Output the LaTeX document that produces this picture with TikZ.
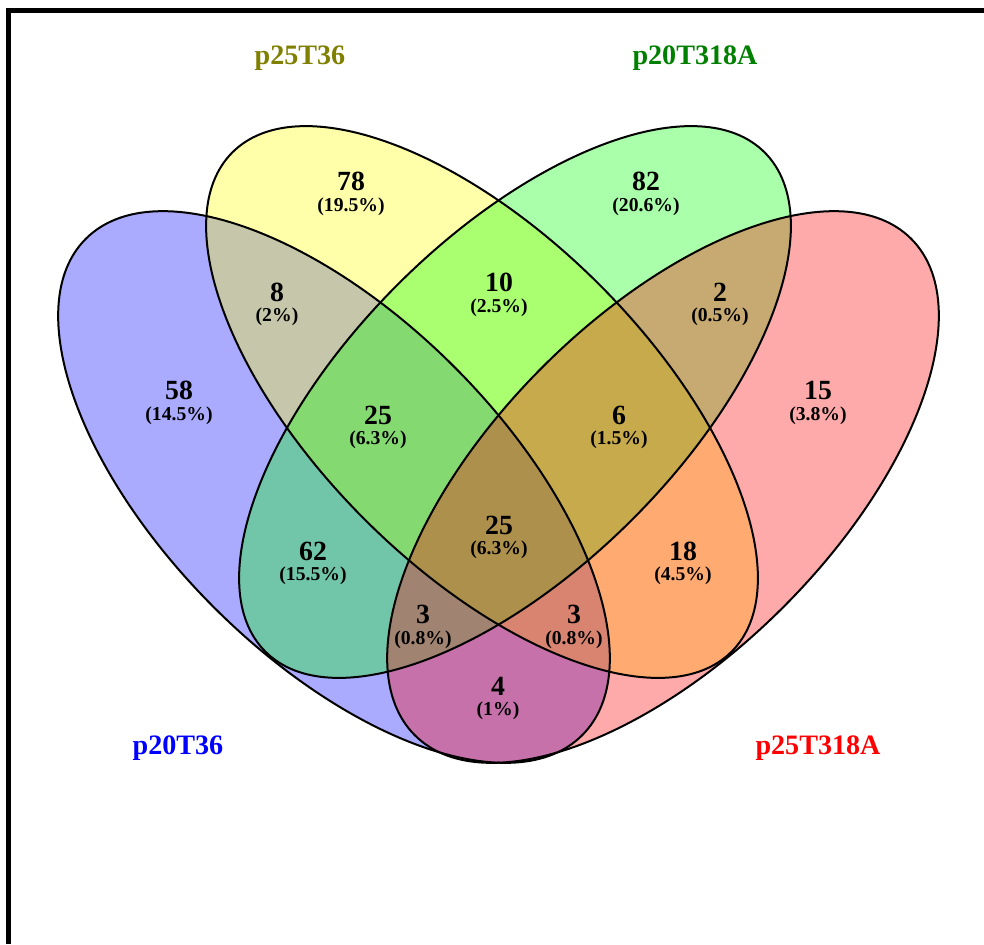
\documentclass[tikz,border=0pt]{standalone}
\usepackage{fontspec}
\setmainfont{Liberation Serif}
\definecolor{vblue}{RGB}{0,0,255}
\definecolor{vyellow}{RGB}{255,255,0}
\definecolor{vgreen}{RGB}{0,255,0}
\definecolor{vred}{RGB}{255,0,0}
\definecolor{lolive}{RGB}{128,128,0}
\definecolor{lgreen}{RGB}{0,128,0}
\begin{document}
\begin{tikzpicture}[x=0.02cm,y=-0.02cm,
  num/.style={font=\fontsize{15.8}{18}\selectfont\bfseries, inner sep=0pt},
  pct/.style={font=\fontsize{11.2}{13}\selectfont\bfseries, inner sep=0pt},
  setlabel/.style={font=\fontsize{16}{19}\selectfont\bfseries, inner sep=0pt},
  outline/.style={draw=black, line width=0.04cm},
  frame/.style={draw=black, line width=0.1cm, line join=miter}]
\useasboundingbox (0,0) rectangle (984,944);
\fill[white] (0,0) rectangle (984,944);
% fills
\begin{scope}[fill opacity=0.333]
\fill[vblue, rotate around={-45:(334,487)}] (334,487) ellipse [x radius=351, y radius=170];
\fill[vyellow, rotate around={-45:(482,402)}] (482,402) ellipse [x radius=353, y radius=166];
\fill[vgreen, rotate around={45:(515,402)}] (515,402) ellipse [x radius=353, y radius=166];
\fill[vred, rotate around={45:(663,487)}] (663,487) ellipse [x radius=351, y radius=170];
\end{scope}
% outlines
\draw[outline, rotate around={-45:(334,487)}] (334,487) ellipse [x radius=351, y radius=170];
\draw[outline, rotate around={-45:(482,402)}] (482,402) ellipse [x radius=353, y radius=166];
\draw[outline, rotate around={45:(515,402)}] (515,402) ellipse [x radius=353, y radius=166];
\draw[outline, rotate around={45:(663,487)}] (663,487) ellipse [x radius=351, y radius=170];
% frame
\draw[frame] (8.5,944) -- (8.5,10.5) -- (984,10.5);
% set labels
\node[setlabel, text=lolive] (lab2) at (300,58) {p25T36};
\node[setlabel, text=lgreen] (lab3) at (695,58) {p20T318A};
\node[setlabel, text=vblue] (lab1) at (178,748) {p20T36};
\node[setlabel, text=vred] (lab4) at (818,748) {p25T318A};
% counts
\node[num] (n78) at (351,181) {78};   \node[pct] (p78) at (351,207) {(19.5\%)};
\node[num] (n82) at (646,181) {82};   \node[pct] (p82) at (646,207) {(20.6\%)};
\node[num] (n8) at (277,292) {8};     \node[pct] (p8) at (277,317) {(2\%)};
\node[num] (n10) at (499,282) {10};   \node[pct] (p10) at (499,308) {(2.5\%)};
\node[num] (n2) at (720,292) {2};     \node[pct] (p2) at (720,317) {(0.5\%)};
\node[num] (n58) at (179,390) {58};   \node[pct] (p58) at (179,416) {(14.5\%)};
\node[num] (n25a) at (378,415) {25};  \node[pct] (p25a) at (378,440) {(6.3\%)};
\node[num] (n6) at (619,415) {6};     \node[pct] (p6) at (619,440) {(1.5\%)};
\node[num] (n15) at (818,390) {15};   \node[pct] (p15) at (818,416) {(3.8\%)};
\node[num] (n62) at (313,551) {62};   \node[pct] (p62) at (313,576) {(15.5\%)};
\node[num] (n25b) at (499,525) {25};  \node[pct] (p25b) at (499,550) {(6.3\%)};
\node[num] (n18) at (683,551) {18};   \node[pct] (p18) at (683,576) {(4.5\%)};
\node[num] (n3a) at (423,614) {3};    \node[pct] (p3a) at (423,640) {(0.8\%)};
\node[num] (n3b) at (574,614) {3};    \node[pct] (p3b) at (574,640) {(0.8\%)};
\node[num] (n4) at (498,686) {4};     \node[pct] (p4) at (498,711) {(1\%)};
\end{tikzpicture}
\end{document}
